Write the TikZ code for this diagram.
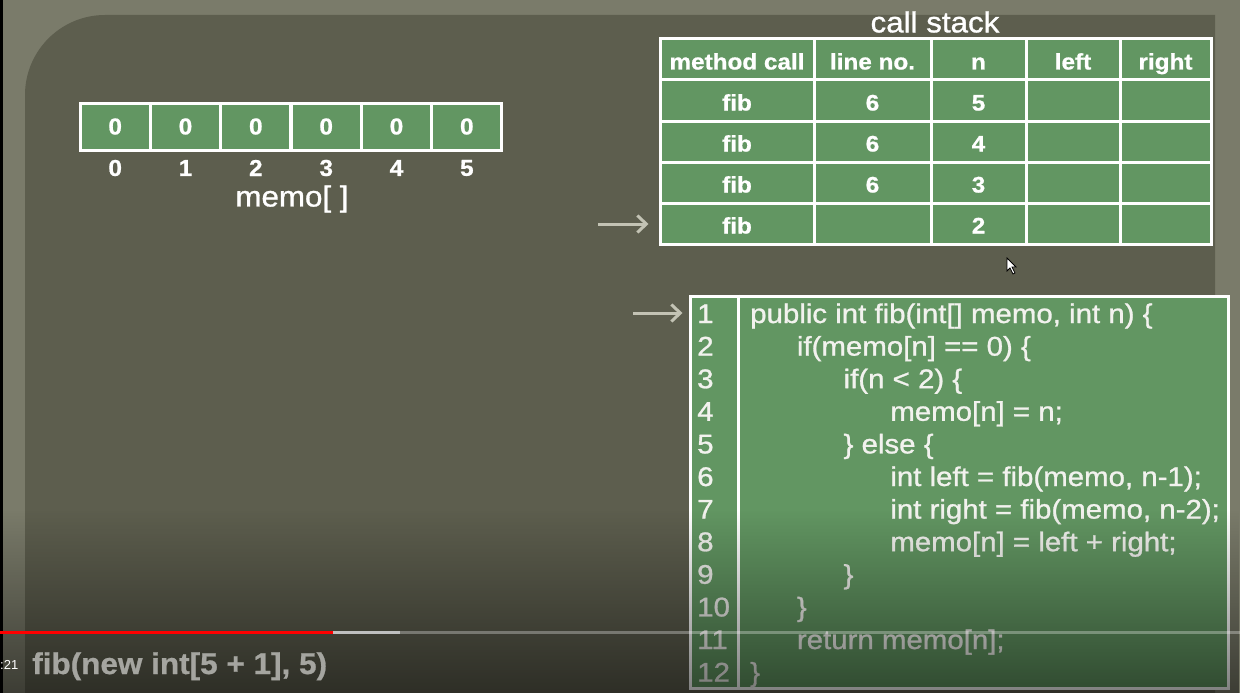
\documentclass[tikz,border=0pt]{standalone}
\usepackage{fontspec}
\setmainfont{Liberation Sans}
\newfontfamily\codefont[FakeBold=1]{Liberation Sans}
\newfontfamily\heavyfont[BoldFeatures={FakeBold=0.8}]{Liberation Sans}
\usetikzlibrary{arrows.meta,fadings}
\definecolor{bgc}{RGB}{122,123,106}
\definecolor{panel}{RGB}{93,94,78}
\definecolor{cellg}{RGB}{98,150,98}
\definecolor{arrc}{RGB}{195,195,180}
\definecolor{codetext}{RGB}{242,242,238}
\definecolor{calltext}{RGB}{165,165,160}
\tikzfading[name=fadedown, top color=transparent!100, bottom color=transparent!0]
\begin{document}
\begin{tikzpicture}[x=1pt,y=-1pt,
  cellbox/.style={draw=white, line width=3pt, fill=cellg, inner sep=0pt},
  tbltext/.style={text=white, font=\fontsize{22.5}{24}\heavyfont\bfseries, xscale=1.08, text height=20pt, text depth=0pt},
  memotext/.style={text=white, font=\fontsize{23}{24}\heavyfont\bfseries, xscale=1.06},
  codeline/.style={anchor=base west, inner sep=0pt, text=codetext, font=\fontsize{27}{30}\codefont, xscale=1.09},
  titletext/.style={text=white, inner sep=0pt, font=\fontsize{29}{32}\codefont, xscale=1.08},
  pointer/.style={draw=arrc, line width=3pt, -{Straight Barb[length=9pt,width=17pt,line width=3pt]}}
]
\useasboundingbox (0,0) rectangle (1240,693);
% background and panel
\fill[bgc] (0,0) rectangle (1240,693);
\fill[black] (0,0) rectangle (3,693);
\fill[panel] (25,700) -- (25,95) arc[start angle=180, end angle=270, radius=80] -- (1215,15) -- (1215,700) -- cycle;

% memo array
\foreach \i/\cx in {0/115.2,1/185.5,2/255.8,3/326.2,4/396.5,5/466.8}{
  \node[cellbox, minimum width=70.3pt, minimum height=47pt] (m\i) at (\cx,126.5) {};
  \node[memotext] (v\i) at (m\i.center) {0};
  \node[memotext] (idx\i) at (\cx,168) {\i};
}
\node[titletext] (memolabel) at (292,199) {memo[ ]};

% call stack
\node[titletext] (cstitle) at (935,22) {call stack};
\foreach \r/\y/\a/\b/\cc/\d/\e in {0/59.5/method call/line no./n/left/right,
  1/100.5/fib/6/5/{}/{}, 2/141.5/fib/6/4/{}/{}, 3/182.5/fib/6/3/{}/{}, 4/223.5/fib/{}/2/{}/{}}{
  \node[cellbox, minimum width=154pt, minimum height=41pt] (t\r1) at (737,\y) {};
  \node[cellbox, minimum width=117pt, minimum height=41pt] (t\r2) at (872.5,\y) {};
  \node[cellbox, minimum width=95pt, minimum height=41pt] (t\r3) at (978.5,\y) {};
  \node[cellbox, minimum width=94pt, minimum height=41pt] (t\r4) at (1073,\y) {};
  \node[cellbox, minimum width=91pt, minimum height=41pt] (t\r5) at (1165.5,\y) {};
  \node[tbltext] at (t\r1.center) {\a};
  \node[tbltext] at (t\r2.center) {\b};
  \node[tbltext] at (t\r3.center) {\cc};
  \node[tbltext] at (t\r4.center) {\d};
  \node[tbltext] at (t\r5.center) {\e};
}

% code box
\node[cellbox, minimum width=538pt, minimum height=392pt] (code) at (959,492) {};
\draw[white, line width=2.5pt] ([xshift=50pt]code.north west) -- ([xshift=50pt]code.south west);
\foreach \n/\ind/\txt in {
  1/0/{public int fib(int[] memo, int n) \{},
  2/1/{if(memo[n] == 0) \{},
  3/2/{if(n < 2) \{},
  4/3/{memo[n] = n;},
  5/2/{\} else \{},
  6/3/{int left = fib(memo, n-1);},
  7/3/{int right = fib(memo, n-2);},
  8/3/{memo[n] = left + right;},
  9/2/{\}},
  10/1/{\}},
  11/1/{return memo[n];},
  12/0/{\}}}{
  \pgfmathsetmacro{\by}{323+32.6*(\n-1)}
  \pgfmathsetmacro{\bx}{750+46.7*\ind}
  \node[codeline] (ln\n) at (697,\by) {\n};
  \node[codeline] (cl\n) at (\bx,\by) {\txt};
}

% pointer arrows
\coordinate (a1) at (598,224);
\draw[pointer, shorten >=10pt] (a1) -- (a1 -| t41.west);
\coordinate (a2) at (633,313);
\draw[pointer, shorten >=6pt] (a2) -- (a2 -| code.west);

% mouse cursor
\filldraw[fill=white, draw=black, line width=0.8pt] (1007,258) -- (1007,271) -- (1010,268) -- (1013,274) -- (1015,273) -- (1012,267) -- (1016,267) -- cycle;

% video overlay (bottom darkening)
\fill[black, fill opacity=0.5, path fading=fadedown] (0,510) rectangle (1240,693);

% progress bar
\draw[line width=3pt, white, opacity=0.3] (400,632) -- (1240,632);
\draw[line width=3pt, white!75!black] (333,632) -- (400,632);
\draw[line width=3pt, red] (0,632) -- (333,632);

% bottom text
\node[anchor=west, inner sep=0pt, text=white, font=\fontsize{13}{15}\selectfont] (time) at (0,665) {:21};
\node[anchor=base west, inner sep=0pt, text=calltext, font=\fontsize{30}{34}\heavyfont\bfseries, xscale=1.05] (callexpr) at (32,674) {fib(new int[5 + 1], 5)};
\end{tikzpicture}
\end{document}
